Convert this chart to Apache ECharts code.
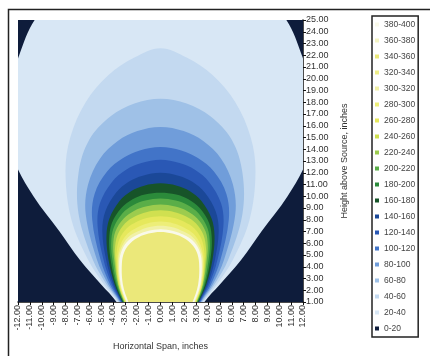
<!DOCTYPE html>
<html>
<head>
<meta charset="utf-8">
<script src="https://cdn.jsdelivr.net/npm/echarts@6/dist/echarts.min.js"></script>
<style>html,body{margin:0;padding:0;background:#fff}#c{width:430px;height:356px}</style>
</head>
<body>
<div id="c"></div>
<script>
// Legend order (top to bottom) as in the reference
const legendNames = ['380-400','360-380','340-360','320-340','300-320','280-300','260-280','240-260','220-240','200-220','180-200','160-180','140-160','120-140','100-120','80-100','60-80','40-60','20-40','0-20'];

// Contour outlines: rows of [height (in), half-width (in)], bottom to top
const region_0_20 = [[-12,1],[-12,25],[12,25],[12,1]];
const contour_20_40 = [[-1,2.7],[1,3.7],[2.5,5.0],[4.6,6.8],[7,8.5],[10,10.7],[13,12.3],[16,12.9],[19,12.8],[22,11.9],[25,10.6],[28,7.9],[30,4.5],[31,0]];
const contour_40_60 = [[-1,2.65],[1,3.58],[2.5,4.75],[4.6,6.1],[8,7.5],[12,8.0],[15,7.6],[18,6.3],[20.3,4.4],[21.8,2.2],[22.6,0]];
const contour_60_80 = [[-1,2.6],[1,3.5],[2.5,4.55],[4.6,5.7],[8.5,6.9],[12,6.9],[14.8,6.0],[16.8,4.2],[17.9,2.2],[18.3,0]];
const contour_80_100 = [[-1,2.55],[1,3.42],[2.5,4.4],[4.6,5.35],[8.5,6.3],[11,6.1],[13.2,5.1],[14.7,3.6],[15.55,1.95],[15.9,0]];
const contour_100_120 = [[-1,2.5],[1,3.36],[2.5,4.25],[4.6,5.05],[8,5.75],[10.2,5.55],[12.1,4.5],[13.25,3.15],[13.9,1.75],[14.2,0]];
const contour_120_140 = [[-1,2.45],[1,3.3],[2.5,4.1],[4.6,4.8],[7.5,5.3],[9.4,5.1],[11.2,4.1],[12.25,2.9],[12.82,1.6],[13.1,0]];
const contour_140_160 = [[-1,2.4],[1,3.25],[2.5,3.98],[4.6,4.58],[7,4.9],[8.7,4.65],[10.3,3.75],[11.25,2.65],[11.75,1.5],[12.0,0]];
const contour_160_180 = [[-1,2.35],[1,3.2],[2.5,3.86],[4.6,4.38],[6.6,4.55],[8.1,4.3],[9.6,3.45],[10.45,2.45],[10.9,1.38],[11.1,0]];
const contour_180_200 = [[-1,2.3],[1,3.15],[2.5,3.76],[4.6,4.2],[6.3,4.32],[7.7,4.1],[9.0,3.3],[9.75,2.35],[10.15,1.32],[10.3,0]];
const contour_200_220 = [[-1,2.25],[1,3.1],[2.5,3.67],[4.6,4.05],[6.0,4.15],[7.3,3.95],[8.55,3.2],[9.25,2.28],[9.63,1.28],[9.8,0]];
const contour_220_240 = [[-1,2.2],[1,3.05],[2.5,3.58],[4.6,3.9],[5.8,3.98],[7.0,3.8],[8.1,3.1],[8.77,2.2],[9.13,1.24],[9.3,0]];
const contour_240_260 = [[-1,2.16],[1,3.02],[2.5,3.54],[4.6,3.8],[5.5,3.84],[6.7,3.62],[7.7,2.98],[8.3,2.12],[8.64,1.2],[8.8,0]];
const contour_260_280 = [[-1,2.12],[1,2.98],[2.5,3.5],[4.6,3.7],[5.2,3.7],[6.3,3.48],[7.25,2.86],[7.8,2.04],[8.14,1.16],[8.3,0]];
const contour_280_300 = [[-1,2.08],[1,2.94],[2.5,3.45],[4.6,3.62],[5.9,3.36],[6.8,2.78],[7.35,1.97],[7.69,1.12],[7.85,0]];
const contour_300_320 = [[-1,2.05],[1,2.9],[2.5,3.41],[4.5,3.56],[5.6,3.32],[6.5,2.74],[7.0,1.94],[7.35,1.1],[7.5,0]];
const contour_380_400 = [[-1,2.0],[1,2.85],[2.5,3.35],[4.4,3.47],[5.45,3.24],[6.25,2.68],[6.75,1.9],[7.05,1.07],[7.2,0]];
const contour_340_360 = [[-1,1.9],[1,2.7],[2.5,3.17],[4.3,3.25],[5.3,3.03],[6.05,2.5],[6.53,1.8],[6.82,1.0],[6.95,0]];

// Styles
const bandColors = {
  '0-20':'#0e1c3b','20-40':'#d8e7f5','40-60':'#c3d9f0','60-80':'#9fc1e7','80-100':'#709dda',
  '100-120':'#4274c8','120-140':'#2a58b5','140-160':'#1b4898','160-180':'#175429','180-200':'#2b8a3a',
  '200-220':'#5aae48','220-240':'#9ccc4e','240-260':'#d0e050','260-280':'#e6e85c','280-300':'#edee78',
  '300-320':'#f1f1a6','320-340':'#eeee88','340-360':'#ebe87a','360-380':'#f4f4c4','380-400':'#f9f9ea'
};

function outline(table){
  const left = table.map(r => [-r[1], r[0]]);
  const right = table.slice(0, -1).reverse().map(r => [r[1], r[0]]);
  return left.concat(right);
}

const drawOrder = [
  ['0-20', region_0_20, false],
  ['20-40', contour_20_40, true],
  ['40-60', contour_40_60, true],
  ['60-80', contour_60_80, true],
  ['80-100', contour_80_100, true],
  ['100-120', contour_100_120, true],
  ['120-140', contour_120_140, true],
  ['140-160', contour_140_160, true],
  ['160-180', contour_160_180, true],
  ['180-200', contour_180_200, true],
  ['200-220', contour_200_220, true],
  ['220-240', contour_220_240, true],
  ['240-260', contour_240_260, true],
  ['260-280', contour_260_280, true],
  ['280-300', contour_280_300, true],
  ['300-320', contour_300_320, true],
  ['380-400', contour_380_400, true],
  ['340-360', contour_340_360, true]
];

const series = [];
drawOrder.forEach(([name, table, isContour]) => {
  const pts = isContour ? outline(table) : table;
  series.push({
    type: 'custom', name: name, clip: true, silent: true,
    itemStyle: { color: bandColors[name] },
    encode: { x: 0, y: 1 },
    data: pts,
    renderItem: function (params, api) {
      if (params.dataIndex !== 0) return null;
      const cps = pts.map(p => api.coord(p));
      return { type: 'polygon', shape: { points: cps, smooth: isContour ? 0.35 : 0 }, style: { fill: bandColors[name] } };
    }
  });
});
['320-340','360-380'].forEach(name => {
  series.push({ type: 'custom', name: name, itemStyle: { color: bandColors[name] }, data: [], renderItem: () => null });
});

const chart = echarts.init(document.getElementById('c'), null, { renderer: 'canvas' });
chart.setOption({
  animation: false,
  backgroundColor: '#ffffff',
  textStyle: { fontFamily: 'Liberation Sans, Arial, sans-serif' },
  graphic: [{ type: 'rect', left: 6, top: 7, shape: { width: 440, height: 360 }, style: { fill: 'none', stroke: '#222', lineWidth: 1.5 }, silent: true }],
  grid: { left: 18, right: 127, top: 20, bottom: 54 },
  xAxis: {
    type: 'value', min: -12, max: 12, interval: 1,
    name: 'Horizontal Span, inches', nameLocation: 'middle', nameGap: 40,
    nameTextStyle: { fontSize: 9, color: '#333' },
    axisLine: { onZero: false, lineStyle: { color: '#111', width: 1.5 } },
    axisTick: { length: 3, lineStyle: { color: '#111' } },
    splitLine: { show: false },
    axisLabel: { rotate: 90, fontSize: 9, color: '#333', margin: 3, hideOverlap: false, formatter: v => v.toFixed(2) }
  },
  yAxis: {
    type: 'value', position: 'right', min: 1, max: 25, interval: 1,
    name: 'Height above Source, inches', nameLocation: 'middle', nameGap: 37, nameRotate: 90,
    nameTextStyle: { fontSize: 9, color: '#333' },
    axisLine: { show: true, onZero: false, lineStyle: { color: '#111', width: 1.5 } },
    axisTick: { show: true, length: 3, lineStyle: { color: '#111' } },
    splitLine: { show: false },
    axisLabel: { fontSize: 9, color: '#333', margin: 3, formatter: v => v.toFixed(2) }
  },
  legend: {
    orient: 'vertical', left: 372, top: 16, data: legendNames,
    icon: 'rect', itemWidth: 4, itemHeight: 4, itemGap: 7,
    textStyle: { fontSize: 8.5, color: '#444' },
    borderColor: '#222', borderWidth: 1.5, padding: [4, 3, 4, 3], backgroundColor: '#fff',
    selectedMode: false
  },
  series: series
});
</script>
</body>
</html>
